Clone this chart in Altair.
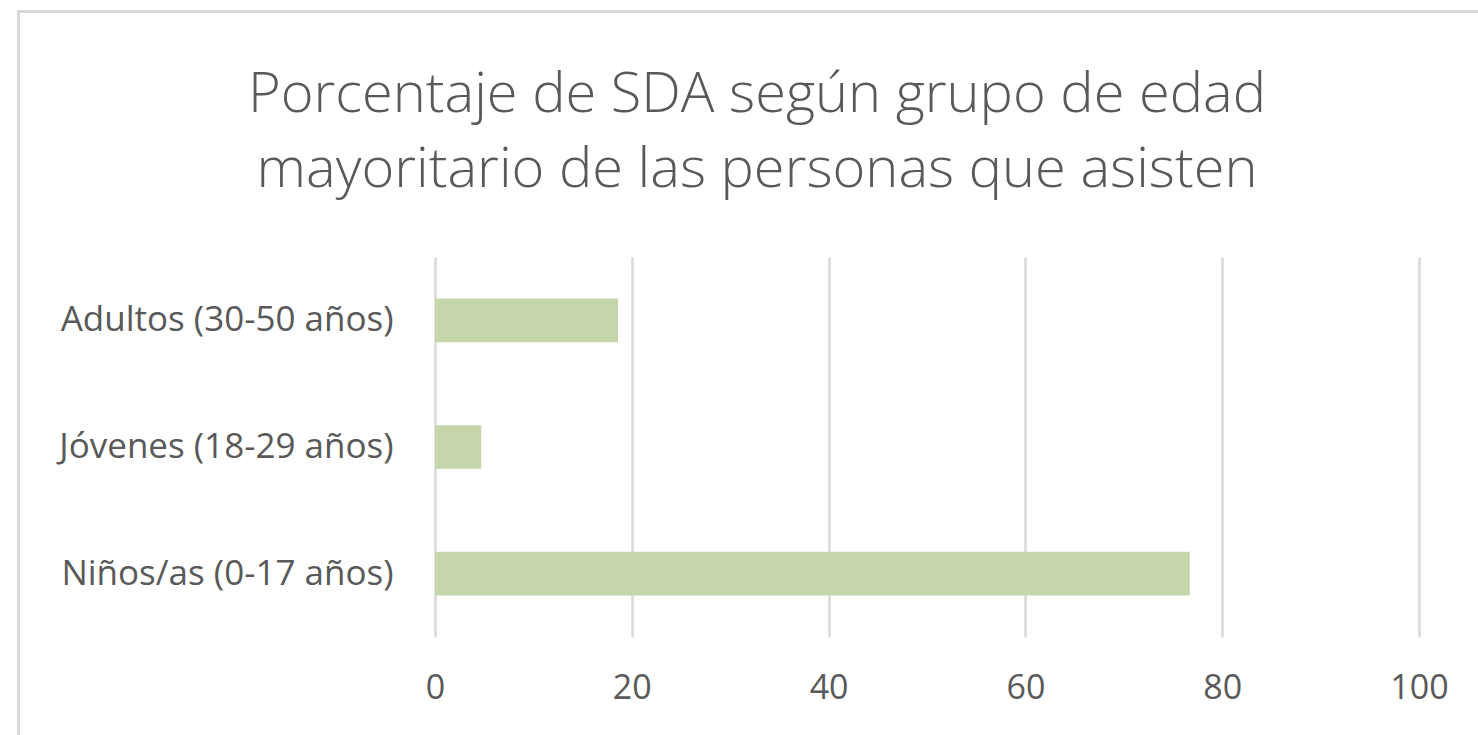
import altair as alt
import pandas as pd

categories = ["Adultos (30-50 años)", "Jóvenes (18-29 años)", "Niños/as (0-17 años)"]
values = [18.6, 4.7, 76.7]
x_ticks = [0, 20, 40, 60, 80, 100]
title_lines = ["Porcentaje de SDA según grupo de edad", "mayoritario de las personas que asisten"]

df = pd.DataFrame({"grupo": categories, "pct": values})

TEXT = "#595959"
GRID = "#D9D9D9"
FONT = "Open Sans"

W, H = 984, 380
PL, PT = 435, 257
PR = 1478 - PL - W
PB = 735 - PT - H

bars = alt.Chart(df).mark_bar(color="#C5D6AB").encode(
    x=alt.X(
        "pct:Q",
        scale=alt.Scale(domain=[0, 100], nice=False),
        axis=alt.Axis(
            values=x_ticks, title=None, grid=True, gridColor=GRID, gridWidth=2.5,
            domain=False, ticks=False, labelFont=FONT, labelFontSize=34,
            labelColor=TEXT, labelPadding=34, labelFlush=False,
        ),
    ),
    y=alt.Y(
        "grupo:N",
        sort=categories,
        scale=alt.Scale(paddingInner=0.655, paddingOuter=0.3276),
        axis=alt.Axis(
            title=None, domain=False, ticks=False, labelFont=FONT, labelFontSize=35,
            labelColor=TEXT, labelPadding=42, labelLimit=0,
        ),
    ),
)

frame = alt.Chart(alt.Data(values=[{"a": 1}])).mark_rect(
    fillOpacity=0, stroke=GRID, strokeWidth=3
).encode(
    x=alt.value(18.5 - PL),
    x2=alt.value(1478 + 30 - PL),
    y=alt.value(11.5 - PT),
    y2=alt.value(735 + 30 - PT),
)

chart = alt.layer(frame, bars).properties(
    width=W,
    height=H,
    background="white",
    padding={"left": PL, "top": PT, "right": PR, "bottom": PB},
    autosize=alt.AutoSizeParams(type="none"),
    title=alt.TitleParams(
        text=title_lines, font=FONT, fontSize=56, fontWeight=300, color=TEXT,
        lineHeight=75, anchor="middle", frame="group", dx=-170, offset=-189,
    ),
).configure_view(strokeWidth=0)

chart.save("out.html", embed_options={"renderer": "svg", "actions": False})
